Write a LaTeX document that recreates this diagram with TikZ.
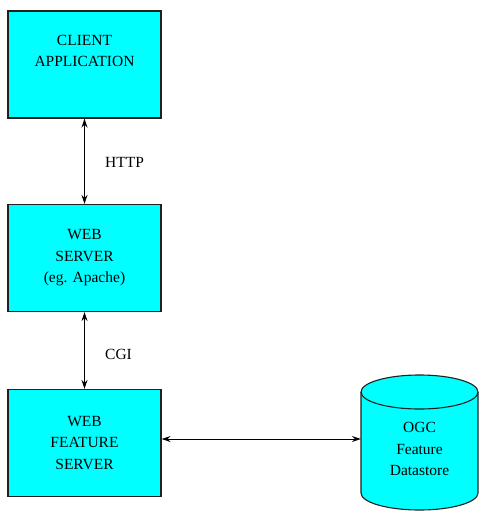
\documentclass[tikz,border=0pt]{standalone}
\usepackage{fontspec}
\setmainfont{Liberation Serif}
\usetikzlibrary{arrows.meta}
\definecolor{boxcyan}{HTML}{00FFFF}
\definecolor{edgegray}{HTML}{202020}
\begin{document}
\begin{tikzpicture}[x=1pt,y=-1pt,
  box/.style={draw=edgegray, line width=1.1pt, fill=boxcyan, rectangle,
    minimum width=153pt, minimum height=107pt, inner sep=0pt,
    align=center, font=\fontsize{15.5}{21.5}\selectfont},
  txt/.style={align=center, inner sep=0pt, font=\fontsize{15.5}{21.5}\selectfont},
  link/.style={draw=black, line width=1pt,
    {Stealth[length=9pt,width=6pt,inset=3pt]}-{Stealth[length=9pt,width=6pt,inset=3pt]}}]
  \useasboundingbox (0,0) rectangle (481,514);

  % boxes
  \node[box] (client) at (84.5,64.5) {};
  \node[txt] (clienttext) at (84.5,51) {CLIENT\\APPLICATION};
  \node[box] (web) at (84.5,258) {WEB\\SERVER\\(eg. Apache)};
  \node[box] (wfs) at (84.5,443) {WEB\\FEATURE\\SERVER};

  % datastore cylinder (y axis points down, so angles 0..180 run along the lower half)
  \fill[boxcyan] (361,392) -- (361,493) arc[start angle=180,end angle=0,x radius=58.5,y radius=17]
    -- (478,392) arc[start angle=0,end angle=-180,x radius=58.5,y radius=17] -- cycle;
  \draw[edgegray, line width=1.1pt] (361,392) -- (361,493)
    arc[start angle=180,end angle=0,x radius=58.5,y radius=17] -- (478,392);
  \draw[edgegray, line width=1.1pt] (419.5,392) ellipse[x radius=58.5,y radius=17];
  \node[minimum width=117pt, minimum height=101pt, inner sep=0pt] (store) at (419.5,442.5) {};
  \node[txt] (storetext) at (419.5,449) {OGC\\Feature\\Datastore};

  % connectors
  \draw[link] (client.south) -- (web.north);
  \draw[link] (web.south) -- (wfs.north);
  \draw[link] (wfs.east |- 0,439) -- (store.west |- 0,439);

  % connector labels
  \node[txt, anchor=west] (http) at (105,162.5) {HTTP};
  \node[txt, anchor=west] (cgi) at (105,354) {CGI};
\end{tikzpicture}
\end{document}
